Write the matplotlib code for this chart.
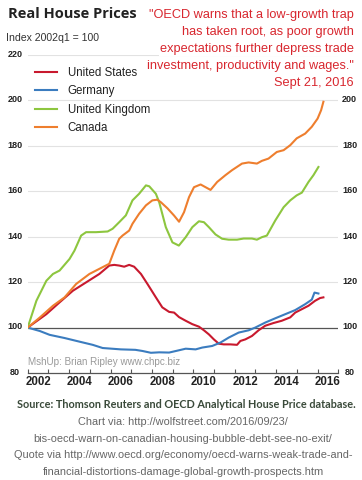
import matplotlib
matplotlib.use("Agg")
import matplotlib.pyplot as plt

# values (decimal year, index 2002q1 = 100)
us_x = [2002.0, 2002.9, 2003.54, 2004.18, 2004.82, 2005.46, 2005.94, 2006.18, 2006.42,
        2006.66, 2006.9, 2007.14, 2007.47, 2007.79, 2008.19, 2008.5, 2008.83, 2009.07,
        2009.31, 2009.63, 2009.95, 2010.27, 2010.51, 2010.75, 2010.99, 2011.23, 2011.47,
        2011.79, 2012.11, 2012.27, 2012.51, 2012.83, 2013.15, 2013.47, 2013.87, 2014.27,
        2014.68, 2014.92, 2015.24, 2015.56, 2015.88, 2016.12, 2016.28]
us_y = [100, 105.9, 111.1, 116.2, 119.9, 123.6, 127.3, 127.6, 127.3,
        126.8, 127.6, 126.8, 123.6, 119.1, 113.3, 108.9, 106.9, 106.6,
        104.6, 103.0, 101.5, 100.4, 98.8, 97.0, 94.8, 92.9, 92.6,
        92.6, 92.4, 94.1, 94.8, 96.3, 98.8, 100.8, 102.0, 103.0,
        104.5, 106.6, 108.1, 109.6, 111.8, 113.0, 113.3]

de_x = [2002.0, 2002.58, 2003.06, 2003.78, 2004.5, 2005.14, 2005.62, 2006.5, 2007.2,
        2007.54, 2007.95, 2008.35, 2008.83, 2009.35, 2009.63, 2010.11, 2010.43, 2010.91,
        2011.31, 2011.71, 2012.19, 2012.67, 2012.99, 2013.47, 2013.96, 2014.44, 2014.92,
        2015.4, 2015.72, 2015.85, 2016.04]
de_y = [100, 98.5, 96.8, 95.4, 93.8, 92.4, 91.0, 90.4, 90.2,
        89.7, 88.9, 89.1, 89.0, 90.1, 90.7, 90.4, 91.2, 91.9,
        93.4, 95.6, 97.8, 98.8, 100.0, 102.2, 104.1, 105.9, 107.7,
        110.3, 112.3, 115.4, 115.0]

uk_x = [2002.0, 2002.42, 2002.9, 2003.22, 2003.54, 2004.02, 2004.26, 2004.58, 2004.82,
        2005.3, 2005.86, 2006.1, 2006.42, 2006.74, 2007.06, 2007.38, 2007.71, 2007.87,
        2008.19, 2008.35, 2008.67, 2008.99, 2009.3, 2009.63, 2009.95, 2010.27, 2010.51,
        2010.75, 2011.07, 2011.39, 2011.71, 2012.11, 2012.43, 2012.83, 2013.07, 2013.31,
        2013.55, 2013.96, 2014.36, 2014.68, 2014.99, 2015.24, 2015.56, 2015.8, 2016.04]
uk_y = [100, 111.8, 120.6, 123.6, 125.1, 130.2, 133.9, 140.5, 142.0,
        142.0, 142.3, 143.5, 146.4, 149.4, 156.0, 158.9, 162.6, 162.2,
        158.9, 155.2, 144.2, 137.5, 136.1, 139.8, 144.2, 146.8, 146.4,
        144.2, 141.0, 139.1, 138.7, 138.7, 139.2, 139.2, 138.7, 139.8,
        140.5, 147.2, 153.0, 156.0, 158.2, 159.4, 164.1, 167.1, 170.7]

ca_x = [2002.0, 2002.58, 2003.22, 2003.78, 2004.34, 2004.98, 2005.62, 2005.94, 2006.18,
        2006.42, 2006.58, 2006.9, 2007.06, 2007.38, 2007.71, 2008.02, 2008.26, 2008.43,
        2008.75, 2009.07, 2009.31, 2009.55, 2009.79, 2010.03, 2010.35, 2010.59, 2010.83,
        2011.15, 2011.55, 2011.87, 2012.35, 2012.67, 2013.07, 2013.31, 2013.63, 2014.03,
        2014.36, 2014.68, 2014.99, 2015.4, 2015.72, 2016.0, 2016.17, 2016.28]
ca_y = [100, 104.4, 109.6, 113.3, 119.2, 123.6, 126.6, 128.1, 133.9,
        139.1, 140.5, 142.7, 145.7, 150.1, 153.8, 156.0, 156.3, 155.2,
        152.5, 149.3, 146.6, 150.8, 157.4, 161.8, 163.0, 161.8, 160.6,
        164.1, 167.1, 169.3, 172.2, 172.7, 172.2, 173.4, 174.4, 177.3,
        178.1, 180.3, 183.3, 185.4, 188.4, 192.0, 195.7, 199.4]

series_names = ["United States", "Germany", "United Kingdom", "Canada"]
series_colors = ["#c8192e", "#3b7cbf", "#8dc63f", "#ee7e2e"]

y_ticks = [80, 100, 120, 140, 160, 180, 200, 220]
y_ticks_right = [80, 100, 120, 140, 160, 180, 200]  # 220 is hidden behind the quote
year_labels = [2002, 2004, 2006, 2008, 2010, 2012, 2014, 2016]

quote_lines = ['"OECD warns that a low-growth trap',
               'has taken root, as poor growth',
               'expectations further depress trade',
               'investment, productivity and wages."',
               'Sept 21, 2016']
footer_lines = ["Chart via: http://wolfstreet.com/2016/09/23/",
                "bis-oecd-warn-on-canadian-housing-bubble-debt-see-no-exit/",
                "Quote via http://www.oecd.org/economy/oecd-warns-weak-trade-and-",
                "financial-distortions-damage-global-growth-prospects.htm"]

arial = ["Liberation Sans", "DejaVu Sans"]

W, H = 362, 480
fig = plt.figure(figsize=(W / 100, H / 100), dpi=100)
ax = fig.add_axes([27.7 / W, 1 - 373 / H, (338.3 - 27.7) / W, (373 - 55) / H])

for xs, ys, name, col in zip([us_x, de_x, uk_x, ca_x], [us_y, de_y, uk_y, ca_y],
                             series_names, series_colors):
    ax.plot(xs, ys, color=col, lw=1.5, label=name, zorder=3)

ax.set_xlim(2002, 2017)
ax.set_ylim(80, 220)
for v in y_ticks[2:]:
    ax.axhline(v, color="#e2e2e2", lw=0.8, zorder=1)
ax.axhline(100, color="#555555", lw=0.9, zorder=2)

for s in ["top", "left", "right"]:
    ax.spines[s].set_visible(False)
ax.spines["bottom"].set_color("#555555")
ax.spines["bottom"].set_linewidth(0.9)

ax.set_xticks(range(2002, 2018))
ax.set_xticklabels([])
ax.tick_params(axis="x", direction="in", length=3, color="#555555", width=0.8)
ax.set_yticks([])
for yr in year_labels:
    ax.text(yr + 0.5, 78.6, str(yr), ha="center", va="top", fontsize=8.3,
            family=arial, weight="bold", color="#222222")
for v in y_ticks:
    ax.text(2001.39, v + 0.3, str(v), ha="center", va="center", fontsize=6.5,
            family=arial, weight="bold", color="#222222", clip_on=False)
for v in y_ticks_right:
    ax.text(2017.55, v + 0.3, str(v), ha="center", va="center", fontsize=6.5,
            family=arial, weight="bold", color="#222222", clip_on=False)

leg = ax.legend(loc="upper left", bbox_to_anchor=(35 / W, 1 - 67 / H),
                bbox_transform=fig.transFigure, frameon=False,
                borderaxespad=0, borderpad=0,
                handlelength=1.9, handletextpad=0.95, labelspacing=0.55,
                prop={"family": arial, "size": 8.3})
for t in leg.get_texts():
    t.set_color("#222222")

fig.text(8 / W, 1 - 14 / H, "Real House Prices", ha="left", va="center",
         fontsize=10.5, family="Open Sans", weight="bold", color="#222222")
fig.text(6 / W, 1 - 38 / H, "Index 2002q1 = 100", ha="left", va="center",
         fontsize=7.6, family=arial, color="#333333")
for i, line in enumerate(quote_lines):
    fig.text(354 / W, 1 - (15 + 17 * i) / H, line, ha="right", va="center",
             fontsize=9.2, family=arial, color="#d8262e", zorder=5,
             bbox=dict(facecolor="white", edgecolor="none", pad=0.5))
fig.text(28 / W, 1 - 362 / H, "MshUp: Brian Ripley www.chpc.biz", ha="left",
         va="center", fontsize=7.1, family=arial, color="#999999")

fig.text(186 / W, 1 - 405 / H,
         "Source: Thomson Reuters and OECD Analytical House Price database.",
         ha="center", va="center", fontsize=7.8, family="Lato", weight="bold",
         color="#3a4a3a")
for i, line in enumerate(footer_lines):
    fig.text(183 / W, 1 - (422 + 16.7 * i) / H, line, ha="center", va="center",
             fontsize=7.9, family=arial, color="#666666")

fig.savefig("out.png", dpi=100)
